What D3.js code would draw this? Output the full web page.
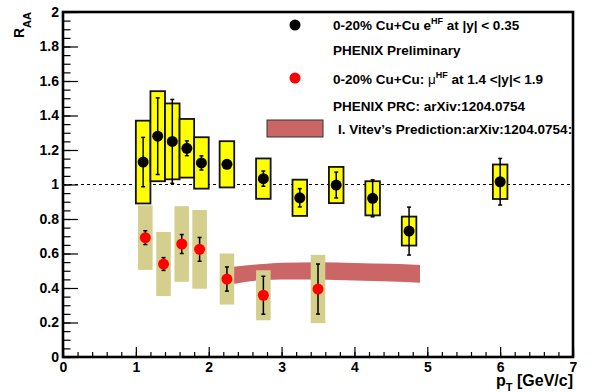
<!DOCTYPE html>
<html>
<head>
<meta charset="utf-8">
<script src="https://cdn.jsdelivr.net/npm/d3@7"></script>
<style>
  html, body { margin: 0; padding: 0; background: #fff; }
  svg { display: block; font-family: "Liberation Sans", Arial, sans-serif; font-weight: bold; }
</style>
</head>
<body>
<svg id="chart" width="592" height="392"></svg>
<script>
// Heavy-flavour electrons, 0-20% Cu+Cu, |y| < 0.35
const eX      = [1.1, 1.3, 1.5, 1.7, 1.9, 2.25, 2.75, 3.25, 3.75, 4.25, 4.75, 6.0];
const eY      = [1.13, 1.28, 1.25, 1.21, 1.125, 1.117, 1.034, 0.923, 0.997, 0.92, 0.73, 1.016];
const eStat   = [0.143, 0.222, 0.243, 0.043, 0.041, 0.02, 0.044, 0.053, 0.075, 0.107, 0.139, 0.135];
const eSys    = [0.24, 0.261, 0.22, 0.17, 0.149, 0.134, 0.117, 0.105, 0.105, 0.099, 0.084, 0.1];

// Heavy-flavour muons, 0-20% Cu+Cu, 1.4 < |y| < 1.9
const muX     = [1.13, 1.38, 1.63, 1.875, 2.25, 2.75, 3.5];
const muY     = [0.692, 0.539, 0.655, 0.624, 0.452, 0.358, 0.394];
const muStat  = [0.04, 0.037, 0.055, 0.069, 0.07, 0.11, 0.145];
const muSys   = [0.187, 0.186, 0.219, 0.228, 0.148, 0.145, 0.198];

// Theory band (Vitev)
const bandX   = [2.3, 2.5, 2.75, 3.0, 3.5, 4.0, 4.5, 4.9];
const bandLo  = [0.42, 0.435, 0.446, 0.45, 0.45, 0.443, 0.437, 0.431];
const bandHi  = [0.52, 0.53, 0.539, 0.547, 0.55, 0.545, 0.54, 0.533];

const xTicks = [0, 1, 2, 3, 4, 5, 6, 7];
const xTickLabels = ["0", "1", "2", "3", "4", "5", "6", "7"];
const yTicks = [0, 0.2, 0.4, 0.6, 0.8, 1, 1.2, 1.4, 1.6, 1.8, 2];
const yTickLabels = ["0", "0.2", "0.4", "0.6", "0.8", "1", "1.2", "1.4", "1.6", "1.8", "2"];

const binHalfWidth = 0.1;

const svg = d3.select("#chart");
const pLeft = 63, pRight = 573, pTop = 12, pBottom = 357;
const x = d3.scaleLinear().domain([0, 7]).range([pLeft, pRight]);
const y = d3.scaleLinear().domain([0, 2]).range([pBottom, pTop]);

// reference line at R_AA = 1
svg.append("line")
  .attr("x1", x(0)).attr("x2", x(7))
  .attr("y1", y(1)).attr("y2", y(1))
  .attr("stroke", "#000").attr("stroke-width", 1)
  .attr("stroke-dasharray", "3,3");

// theory band
const area = d3.area()
  .x((d, i) => x(bandX[i]))
  .y0((d, i) => y(bandLo[i]))
  .y1((d, i) => y(bandHi[i]))
  .curve(d3.curveMonotoneX);
svg.append("path").datum(bandX)
  .attr("d", area)
  .attr("fill", "#cc6666");

// muon systematic boxes
svg.append("g").selectAll("rect").data(muX).join("rect")
  .attr("x", d => x(d - binHalfWidth))
  .attr("width", d => x(d + binHalfWidth) - x(d - binHalfWidth))
  .attr("y", (d, i) => y(muY[i] + muSys[i]))
  .attr("height", (d, i) => y(muY[i] - muSys[i]) - y(muY[i] + muSys[i]))
  .attr("fill", "#d4cf8c");

// electron systematic boxes
svg.append("g").selectAll("rect").data(eX).join("rect")
  .attr("x", d => x(d - binHalfWidth))
  .attr("width", d => x(d + binHalfWidth) - x(d - binHalfWidth))
  .attr("y", (d, i) => y(eY[i] + eSys[i]))
  .attr("height", (d, i) => y(eY[i] - eSys[i]) - y(eY[i] + eSys[i]))
  .attr("fill", "#ffff00")
  .attr("stroke", "#111").attr("stroke-width", 1.8);

function errorBars(xs, ys, errs) {
  const g = svg.append("g").attr("stroke", "#000").attr("stroke-width", 1.5);
  xs.forEach((xv, i) => {
    const cx = x(xv), y1 = y(ys[i] + errs[i]), y2 = y(ys[i] - errs[i]);
    g.append("line").attr("x1", cx).attr("x2", cx).attr("y1", y1).attr("y2", y2);
    g.append("line").attr("x1", cx - 2).attr("x2", cx + 2).attr("y1", y1).attr("y2", y1);
    g.append("line").attr("x1", cx - 2).attr("x2", cx + 2).attr("y1", y2).attr("y2", y2);
  });
}
errorBars(muX, muY, muStat);
errorBars(eX, eY, eStat);

svg.append("g").selectAll("circle").data(muX).join("circle")
  .attr("cx", d => x(d)).attr("cy", (d, i) => y(muY[i]))
  .attr("r", 5.5).attr("fill", "#ff0000");

svg.append("g").selectAll("circle").data(eX).join("circle")
  .attr("cx", d => x(d)).attr("cy", (d, i) => y(eY[i]))
  .attr("r", 5.5).attr("fill", "#000");

// axes: major and minor ticks pointing inward
const yMinor = d3.range(0, 2.0001, 0.05).map(v => +v.toFixed(2));
const xMinor = d3.range(0, 7.0001, 0.2).map(v => +v.toFixed(1));

svg.append("g").attr("transform", `translate(${pLeft},0)`)
  .call(d3.axisLeft(y).tickValues(yMinor).tickSizeInner(-7.5).tickSizeOuter(0).tickFormat(""))
  .call(g => g.select(".domain").remove());
svg.append("g").attr("transform", `translate(0,${pBottom})`)
  .call(d3.axisBottom(x).tickValues(xMinor).tickSizeInner(-5).tickSizeOuter(0).tickFormat(""))
  .call(g => g.select(".domain").remove());

const yAxis = svg.append("g").attr("transform", `translate(${pLeft},0)`)
  .call(d3.axisLeft(y).tickValues(yTicks).tickSizeInner(-15).tickSizeOuter(0)
    .tickPadding(4).tickFormat((d, i) => yTickLabels[i]));
yAxis.select(".domain").remove();
yAxis.selectAll("text").attr("font-size", 14).attr("font-weight", "bold")
  .attr("font-family", "Liberation Sans, Arial, sans-serif").attr("fill", "#000");

const xAxis = svg.append("g").attr("transform", `translate(0,${pBottom})`)
  .call(d3.axisBottom(x).tickValues(xTicks).tickSizeInner(-10).tickSizeOuter(0)
    .tickPadding(5).tickFormat((d, i) => xTickLabels[i]));
xAxis.select(".domain").remove();
xAxis.selectAll("text").attr("font-size", 14).attr("font-weight", "bold")
  .attr("font-family", "Liberation Sans, Arial, sans-serif").attr("fill", "#000");

svg.selectAll(".tick line").attr("stroke", "#000").attr("stroke-width", 1.2);

// frame
svg.append("rect")
  .attr("x", pLeft).attr("y", pTop)
  .attr("width", pRight - pLeft).attr("height", pBottom - pTop)
  .attr("fill", "none").attr("stroke", "#000").attr("stroke-width", 2.6);

// axis titles
const yTitle = svg.append("text")
  .attr("transform", `translate(24,12) rotate(-90)`)
  .attr("text-anchor", "end").attr("font-size", 14);
yTitle.append("tspan").text("R");
yTitle.append("tspan").attr("font-size", 11).attr("dy", 7).text("AA");

const xTitle = svg.append("text")
  .attr("x", pRight).attr("y", 386)
  .attr("text-anchor", "end").attr("font-size", 16);
xTitle.append("tspan").text("p");
xTitle.append("tspan").attr("font-size", 11).attr("dy", 5).text("T");
xTitle.append("tspan").attr("dy", -5).text(" [GeV/c]");

// legend
const lg = svg.append("g").attr("font-size", 13.5);
lg.append("circle").attr("cx", 295).attr("cy", 25).attr("r", 5.5).attr("fill", "#000");
const t1 = lg.append("text").attr("x", 333).attr("y", 30);
t1.append("tspan").text("0-20% Cu+Cu e");
t1.append("tspan").attr("font-size", 9).attr("dy", -6).text("HF");
t1.append("tspan").attr("dy", 6).text(" at |y| < 0.35");
lg.append("text").attr("x", 333).attr("y", 54.5).text("PHENIX Preliminary");

lg.append("circle").attr("cx", 295).attr("cy", 78).attr("r", 5.5).attr("fill", "#ff0000");
const t2 = lg.append("text").attr("x", 333).attr("y", 83.5);
t2.append("tspan").text("0-20% Cu+Cu: ");
t2.append("tspan").attr("font-weight", "normal").text("\u03bc");
t2.append("tspan").attr("font-size", 9).attr("dy", -6).text("HF");
t2.append("tspan").attr("dy", 6).text(" at 1.4 <|y|< 1.9");
lg.append("text").attr("x", 333).attr("y", 111).text("PHENIX PRC: arXiv:1204.0754");

lg.append("rect").attr("x", 267).attr("y", 120).attr("width", 56).attr("height", 17)
  .attr("fill", "#cc6666").attr("stroke", "#333").attr("stroke-width", 1);
lg.append("text").attr("x", 338).attr("y", 133.5).text("I. Vitev\u2019s Prediction:arXiv:1204.0754:");
</script>
</body>
</html>
